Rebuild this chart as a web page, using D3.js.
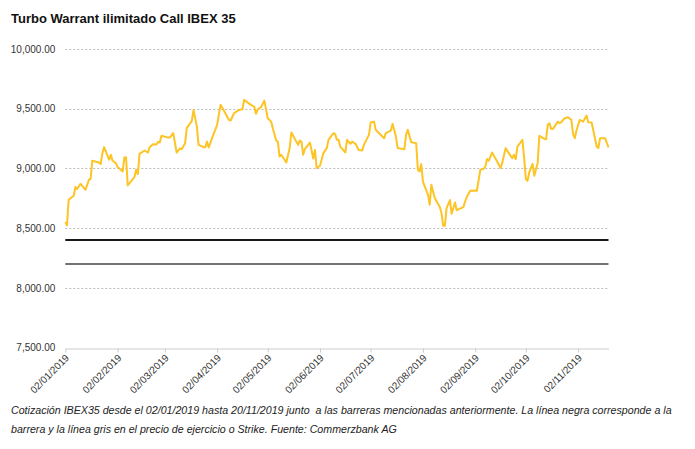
<!DOCTYPE html>
<html>
<head>
<meta charset="utf-8"/>
<script src="https://cdnjs.cloudflare.com/ajax/libs/d3/7.8.5/d3.min.js"></script>
<style>
  body { margin: 0; background: #fff; font-family: "Liberation Sans", Arial, sans-serif; }
</style>
</head>
<body>
<script>
// IBEX35 closes (dates as MM-DD, year 2019)
const dates = [
  '01-02','01-03','01-04','01-07','01-08','01-09','01-11','01-14','01-16','01-17',
  '01-18','01-22','01-23','01-24','01-25','01-28','01-29','01-30','02-01','02-02',
  '02-05','02-06','02-07','02-08','02-12','02-13','02-14','02-15','02-18','02-20',
  '02-21','02-23','02-25','02-26','02-27','02-28','03-04','03-05','03-07','03-09',
  '03-11','03-12','03-14','03-15','03-18','03-19','03-21','03-22','03-25','03-26',
  '03-27','03-28','03-30','04-02','04-04','04-06','04-09','04-10','04-12','04-15',
  '04-17','04-18','04-22','04-24','04-25','04-26','04-28','04-30','05-02','05-04',
  '05-05','05-07','05-08','05-09','05-10','05-13','05-15','05-16','05-20','05-21',
  '05-22','05-23','05-24','05-27','05-29','05-30','05-31','06-02','06-04','06-06',
  '06-07','06-10','06-11','06-12','06-13','06-14','06-17','06-18','06-20','06-21',
  '06-23','06-25','06-27','06-28','07-01','07-02','07-04','07-05','07-10','07-11',
  '07-14','07-15','07-17','07-18','07-22','07-23','07-24','07-26','07-29','07-30',
  '07-31','08-01','08-02','08-05','08-06','08-07','08-09','08-12','08-13','08-14',
  '08-15','08-16','08-18','08-19','08-21','08-22','08-26','08-27','08-28','08-30',
  '09-02','09-03','09-05','09-07','09-08','09-09','09-10','09-12','09-15','09-17',
  '09-18','09-20','09-23','09-24','09-25','09-26','09-27','09-30','10-01','10-02',
  '10-03','10-04','10-06','10-07','10-09','10-10','10-13','10-14','10-15','10-16',
  '10-17','10-18','10-21','10-22','10-23','10-25','10-27','10-29','10-30','10-31',
  '11-01','11-03','11-05','11-07','11-08','11-10','11-13','11-14','11-15','11-18',
  '11-20'
];
const ibex = [
  8551,8523,8737,8771,8844,8827,8871,8821,8905,8911,
  9064,9049,9036,9128,9178,9072,9114,9064,9044,9011,
  8974,9091,9094,8857,8927,8988,8952,9122,9150,9133,
  9178,9203,9200,9222,9217,9273,9258,9258,9295,9133,
  9167,9161,9211,9337,9398,9490,9350,9197,9178,9178,
  9225,9175,9253,9365,9532,9485,9406,9401,9462,9490,
  9495,9574,9532,9518,9457,9495,9512,9568,9420,9392,
  9337,9233,9225,9100,9114,9049,9170,9300,9197,9233,
  9225,9114,9161,9217,9083,9155,9003,9022,9128,9170,
  9239,9295,9287,9239,9239,9183,9133,9239,9206,9225,
  9206,9155,9150,9197,9281,9384,9392,9323,9253,9295,
  9317,9373,9267,9170,9161,9281,9323,9220,9211,8988,
  8974,9036,8890,8779,8696,8863,8752,8676,8626,8520,
  8520,8668,8735,8620,8715,8650,8676,8723,8760,8813,
  8815,8813,8988,8997,9016,9078,9064,9133,9058,9003,
  9044,9170,9105,9086,9114,9078,9183,9239,9086,8911,
  8896,8966,9038,8938,9044,9273,9247,9244,9365,9378,
  9331,9329,9392,9378,9387,9420,9428,9406,9287,9253,
  9317,9406,9392,9443,9387,9384,9183,9170,9253,9253,
  9175
];
const barrier = 8400;   // black line
const strike = 8200;    // grey line
const yTicks = [7500, 8000, 8500, 9000, 9500, 10000];
const xTickLabels = ['02/01/2019','02/02/2019','02/03/2019','02/04/2019','02/05/2019','02/06/2019',
                     '02/07/2019','02/08/2019','02/09/2019','02/10/2019','02/11/2019'];

const title = 'Turbo Warrant ilimitado Call IBEX 35';
const caption = [
  'Cotización IBEX35 desde el 02/01/2019 hasta 20/11/2019 junto\u00a0 a las barreras mencionadas anteriormente. La línea negra corresponde a la',
  'barrera y la línea gris en el precio de ejercicio o Strike. Fuente: Commerzbank AG'
];

const W = 695, H = 449;
const margin = { left: 65.3, right: 86.5, top: 49, bottom: 101.5 };

const parseDay = d3.timeParse('%Y-%m-%d');
const parseLabel = d3.timeParse('%d/%m/%Y');
const data = dates.map((d, i) => ({ date: parseDay('2019-' + d), value: ibex[i] }));

const svg = d3.select('body').append('svg')
  .attr('width', W)
  .attr('height', H);

const x = d3.scaleTime()
  .domain(d3.extent(data, d => d.date))
  .range([margin.left, W - margin.right]);
const y = d3.scaleLinear()
  .domain([7500, 10000])
  .range([H - margin.bottom, margin.top]);

svg.append('text')
  .attr('x', 11)
  .attr('y', 23)
  .attr('font-size', 13)
  .attr('font-weight', 'bold')
  .attr('fill', '#111')
  .text(title);

// horizontal dotted grid
svg.append('g')
  .selectAll('line')
  .data(yTicks.filter(t => t > 7500))
  .enter().append('line')
  .attr('x1', x.range()[0])
  .attr('x2', x.range()[1])
  .attr('y1', d => Math.round(y(d)) + 0.5)
  .attr('y2', d => Math.round(y(d)) + 0.5)
  .attr('stroke', '#bbb')
  .attr('stroke-dasharray', '2,2');

// y labels
const yAxis = svg.append('g')
  .attr('transform', `translate(${margin.left - 7},0)`)
  .call(d3.axisLeft(y).tickValues(yTicks).tickSize(0).tickFormat(d3.format(',.2f')));
yAxis.select('.domain').remove();
yAxis.selectAll('text')
  .attr('font-family', '"Liberation Sans", Arial, sans-serif')
  .attr('font-size', 10)
  .attr('fill', '#333');

// x axis
const xTicks = xTickLabels.map(parseLabel);
const xAxis = svg.append('g')
  .attr('transform', `translate(0,${Math.round(y(7500)) + 0.5})`)
  .call(d3.axisBottom(x).tickValues(xTicks).tickSize(4).tickSizeOuter(0)
    .tickFormat(d3.timeFormat('%d/%m/%Y')));
xAxis.select('.domain').attr('stroke', '#ccc');
xAxis.selectAll('.tick line').attr('stroke', '#ccc');
xAxis.selectAll('text')
  .attr('font-family', '"Liberation Sans", Arial, sans-serif')
  .attr('font-size', 10)
  .attr('fill', '#333')
  .attr('text-anchor', 'end')
  .attr('dy', null)
  .attr('y', 0)
  .attr('transform', 'translate(4,10) rotate(-45)');

// barrier and strike lines
svg.append('line')
  .attr('x1', x.range()[0]).attr('x2', x.range()[1])
  .attr('y1', y(barrier)).attr('y2', y(barrier))
  .attr('stroke', '#1a1a1a').attr('stroke-width', 2);
svg.append('line')
  .attr('x1', x.range()[0]).attr('x2', x.range()[1])
  .attr('y1', y(strike)).attr('y2', y(strike))
  .attr('stroke', '#737373').attr('stroke-width', 2);

// IBEX line
svg.append('path')
  .datum(data)
  .attr('fill', 'none')
  .attr('stroke', '#fdc425')
  .attr('stroke-width', 2)
  .attr('stroke-linejoin', 'round')
  .attr('d', d3.line().x(d => x(d.date)).y(d => y(d.value)));

svg.append('g')
  .selectAll('text')
  .data(caption)
  .enter().append('text')
  .attr('x', 11)
  .attr('y', (d, i) => 414 + i * 19)
  .attr('font-size', 10.65)
  .attr('font-style', 'italic')
  .attr('fill', '#222')
  .text(d => d);
</script>
</body>
</html>
